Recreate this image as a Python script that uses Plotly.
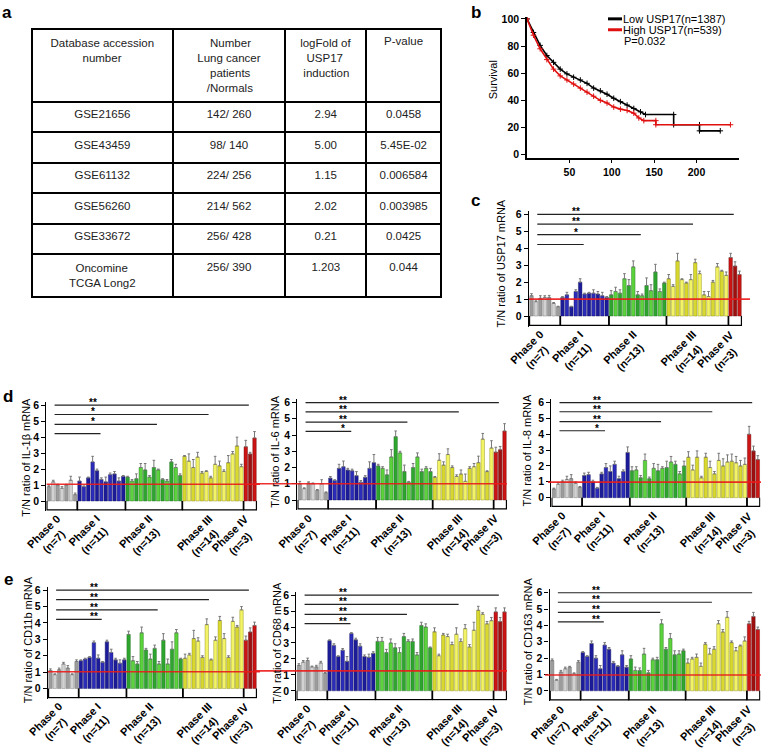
import plotly.graph_objects as go

W, H = 766, 751
FONT = "Liberation Sans, Arial, sans-serif"

# ---------------- data: panel a (table) ----------------
table_header = ["Database accession<br>number", "Number<br>Lung cancer<br>patients<br>/Normals",
                "logFold of<br>USP17<br>induction", "P-value"]
table_ids = ["GSE21656", "GSE43459", "GSE61132", "GSE56260", "GSE33672", "Oncomine<br>TCGA Long2"]
table_n = ["142/ 260", "98/ 140", "224/ 256", "214/ 562", "256/ 428", "256/ 390"]
table_logfold = ["2.94", "5.00", "1.15", "2.02", "0.21", "1.203"]
table_p = ["0.0458", "5.45E-02", "0.006584", "0.003985", "0.0425", "0.044"]

# ---------------- data: panel b (survival) ----------------
km_low_t = [0, 7.6, 15.5, 23.4, 31.3, 39.2, 47.1, 55, 62.9, 70.8, 78.6, 86.5, 94.4, 102.3, 110.2,
            118.1, 126, 133.9, 139.8, 173, 173, 203.5, 203.5, 228]
km_low_s = [100, 90, 80.5, 73, 68, 63, 59.5, 57, 55, 52.5, 49, 47, 44.5, 41.5, 39,
            36.5, 34, 31.5, 29.5, 29.5, 22, 22, 17.5, 17.5]
km_high_t = [0, 7.6, 15.5, 23.4, 31.3, 39.2, 47.1, 55, 62.9, 70.8, 78.6, 86.5, 94.4, 102.3, 110.2,
             118.1, 126, 131.9, 137.8, 152, 152, 240]
km_high_s = [100, 88, 78, 70, 63, 58, 55, 52, 49, 46, 43, 40, 38, 35, 33.5,
             32.5, 30.5, 27, 25, 25, 22, 22]
km_names = ["Low USP17(n=1387)", "High USP17(n=539)"]
km_p_text = "P=0.032"

# ---------------- data: bar panels ----------------
phase_labels = ["Phase 0<br>(n=7)", "Phase I<br>(n=11)", "Phase II<br>(n=13)",
                "Phase III<br>(n=14)", "Phase IV<br>(n=3)"]
phase_sizes = [7, 11, 13, 14, 3]
y_ticks = [0, 1, 2, 3, 4, 5, 6]

usp17_vals = [1.2, 0.85, 1.05, 1.1, 1.1, 0.75, 0.55,
              1.1, 1.25, 0.55, 1.45, 2.0, 1.3, 1.35, 1.35, 1.3, 1.2, 1.1,
              1.25, 1.45, 1.35, 2.2, 1.8, 2.9, 1.25, 1.2, 1.8, 1.5, 2.6, 1.45, 1.95,
              2.2, 1.75, 3.25, 2.15, 1.95, 2.15, 3.15, 2.5, 1.25, 1.15, 2.0, 2.9, 2.65, 2.4,
              3.45, 2.95, 2.45]
usp17_tops = [1.32, 0.9, 1.2, 1.2, 1.22, 0.8, 0.58,
              1.15, 1.4, 0.58, 1.55, 2.2, 1.35, 1.4, 1.55, 1.45, 1.4, 1.15,
              1.5, 1.7, 1.55, 2.5, 2.15, 3.25, 1.45, 1.3, 2.25, 1.85, 3.05, 1.6, 2.0,
              2.45, 1.85, 3.7, 2.2, 2.0, 2.45, 3.35, 2.65, 1.45, 1.45, 2.1, 3.1, 2.7, 2.6,
              3.7, 3.2, 2.65]

il1b_vals = [0.9, 1.2, 1.0, 0.8, 1.0, 1.3, 0.4,
             1.25, 0.9, 1.45, 2.45, 1.9, 1.35, 1.2, 1.65, 1.7, 1.25, 1.55,
             1.5, 1.25, 1.4, 2.1, 1.95, 1.5, 2.1, 1.95, 1.35, 1.25, 2.45, 2.1, 1.6,
             2.8, 2.5, 2.1, 2.75, 1.75, 1.85, 1.45, 2.3, 2.2, 1.85, 2.4, 2.95, 3.45, 2.15,
             3.4, 2.95, 3.95]
il1b_tops = [1.0, 1.3, 1.05, 0.9, 1.05, 1.55, 0.5,
             1.5, 0.95, 1.5, 2.8, 2.0, 1.45, 1.5, 1.75, 1.85, 1.45, 1.6,
             1.55, 1.35, 1.7, 2.35, 2.35, 1.6, 2.55, 2.0, 1.4, 1.35, 2.6, 2.3, 1.7,
             2.85, 2.95, 2.6, 3.05, 1.85, 1.9, 1.55, 2.8, 2.5, 1.95, 2.85, 3.1, 4.0, 2.3,
             3.8, 3.05, 4.35]

il6_vals = [1.0, 0.7, 1.05, 1.0, 0.6, 1.0, 0.45,
            1.35, 1.2, 1.95, 2.05, 1.85, 1.8, 1.5, 1.1, 1.4, 1.95, 2.3,
            2.1, 1.95, 1.55, 2.65, 3.9, 2.9, 1.75, 1.1, 2.0, 2.65, 1.75, 1.95, 1.75,
            1.4, 2.45, 2.15, 2.8, 2.0, 1.45, 1.6, 1.15, 1.95, 2.05, 2.3, 3.75, 1.75, 3.2,
            2.95, 3.1, 4.25]
il6_tops = [1.15, 0.75, 1.12, 1.05, 0.65, 1.25, 0.5,
            1.45, 1.25, 2.2, 2.4, 1.95, 1.9, 1.75, 1.2, 1.5, 2.35, 2.8,
            2.2, 2.05, 1.85, 3.1, 4.25, 3.0, 2.15, 1.15, 2.25, 2.9, 1.9, 2.05, 1.95,
            1.45, 2.85, 2.35, 3.15, 2.1, 1.55, 1.85, 1.6, 2.05, 2.25, 2.7, 4.1, 1.8, 3.65,
            3.25, 3.3, 4.7]

il8_vals = [0.55, 0.85, 1.0, 1.15, 1.2, 0.9, 0.65,
            1.4, 1.45, 1.0, 0.6, 1.5, 1.9, 1.65, 2.1, 1.2, 1.65, 2.85,
            1.7, 1.75, 1.25, 2.35, 1.2, 1.85, 1.7, 1.85, 1.9, 2.25, 2.1, 1.5, 2.0,
            2.55, 1.75, 2.55, 1.25, 2.55, 1.9, 1.5, 2.35, 2.0, 2.25, 2.3, 2.2, 2.0, 2.1,
            4.0, 2.95, 2.4]
il8_tops = [0.6, 0.95, 1.1, 1.35, 1.45, 1.0, 0.7,
            1.55, 1.6, 1.1, 0.65, 1.6, 2.15, 2.0, 2.3, 1.35, 1.75, 3.2,
            1.95, 1.95, 1.4, 2.75, 1.3, 2.15, 2.1, 1.95, 2.3, 2.6, 2.3, 1.65, 2.3,
            2.9, 2.05, 2.95, 1.35, 2.8, 2.3, 1.65, 2.8, 2.45, 2.7, 2.75, 2.6, 2.35, 2.5,
            4.5, 3.25, 2.65]

cd11b_vals = [1.1, 0.85, 1.15, 1.5, 1.25, 0.85, 1.65,
              1.7, 1.8, 1.9, 2.8, 1.85, 1.6, 2.85, 2.2, 1.75, 1.55, 1.75,
              3.3, 1.7, 1.5, 3.4, 2.35, 1.8, 2.45, 1.5, 2.95, 1.5, 2.4, 3.4, 1.8,
              1.85, 2.05, 3.05, 2.9, 1.9, 3.9, 1.75, 2.95, 4.15, 3.05, 1.9, 4.1, 3.75, 4.8,
              2.95, 3.45, 3.85]
cd11b_tops = [1.2, 0.9, 1.25, 1.6, 1.4, 0.9, 1.75,
              1.75, 1.85, 1.95, 2.9, 2.05, 1.65, 2.95, 2.4, 1.85, 1.75, 1.85,
              3.5, 1.95, 1.65, 3.75, 2.45, 2.1, 2.65, 1.65, 3.35, 1.8, 2.85, 3.6, 1.85,
              2.1, 2.15, 3.55, 3.1, 2.0, 4.25, 1.8, 3.15, 4.4, 3.35, 2.0, 4.35, 3.85, 5.0,
              3.2, 3.7, 4.05]

cd68_vals = [1.6, 1.8, 1.9, 1.5, 1.5, 1.75, 1.1,
             3.15, 2.85, 2.15, 2.55, 1.85, 3.6, 3.2, 2.8, 2.15, 2.1, 2.35,
             3.1, 3.1, 2.4, 3.0, 2.7, 2.4, 3.4, 3.1, 3.1, 2.25, 4.1, 4.0, 2.7,
             3.7, 2.2, 3.5, 3.4, 2.9, 3.55, 3.1, 3.9, 2.75, 3.8, 5.05, 4.8, 4.2, 4.4,
             4.95, 4.35, 4.95]
cd68_tops = [1.7, 1.9, 2.05, 1.55, 1.6, 1.85, 1.15,
             3.2, 2.95, 2.2, 2.65, 2.15, 3.65, 3.3, 2.95, 2.25, 2.3, 2.45,
             3.35, 3.35, 2.6, 3.25, 2.95, 2.7, 3.6, 3.2, 3.25, 2.4, 4.3, 4.2, 2.75,
             3.95, 2.3, 3.6, 3.55, 3.05, 3.95, 3.25, 4.15, 2.9, 4.3, 5.3, 4.9, 4.35, 4.6,
             5.2, 4.6, 5.2]

cd163_vals = [1.85, 0.65, 1.15, 1.35, 1.45, 1.05, 1.75,
              2.35, 2.1, 2.9, 2.0, 1.35, 2.8, 2.55, 1.7, 1.5, 2.2, 1.45,
              1.95, 1.25, 1.25, 2.25, 1.1, 1.9, 1.9, 4.1, 2.55, 3.2, 2.2, 2.25, 2.45,
              1.7, 1.95, 2.05, 1.5, 2.85, 2.25, 2.55, 4.1, 3.6, 4.5, 2.95, 2.45, 2.75, 3.05,
              4.1, 4.55, 3.75]
cd163_tops = [1.95, 0.7, 1.25, 1.45, 1.5, 1.1, 1.85,
              2.4, 2.15, 3.05, 2.15, 1.55, 2.95, 2.65, 1.8, 1.55, 2.45, 1.55,
              2.15, 1.45, 1.4, 2.6, 1.25, 2.0, 2.05, 4.35, 2.65, 3.5, 2.45, 2.45, 2.55,
              1.95, 2.05, 2.25, 1.7, 2.95, 2.6, 2.7, 4.3, 3.75, 4.85, 3.05, 2.65, 2.8, 3.3,
              4.25, 4.8, 3.9]

panel_titles = ["T/N ratio of USP17 mRNA", "T/N ratio of IL-1β mRNA", "T/N ratio of IL-6 mRNA",
                "T/N ratio of IL-8 mRNA", "T/N ratio of CD11b mRNA", "T/N ratio of CD68 mRNA",
                "T/N ratio of CD163 mRNA"]
panel_vals = [usp17_vals, il1b_vals, il6_vals, il8_vals, cd11b_vals, cd68_vals, cd163_vals]
panel_tops = [usp17_tops, il1b_tops, il6_tops, il8_tops, cd11b_tops, cd68_tops, cd163_tops]
panel_stars = [["**", "**", "*", ""], ["**", "*", "*", ""], ["**", "**", "**", "*"],
               ["**", "**", "**", "*"], ["**", "**", "**", "**"], ["**", "**", "**", "**"],
               ["**", "**", "**", "**"]]
ref_levels = [1.0, 1.05, 1.0, 0.98, 1.03, 1.25, 0.97]
sig_levels = [6.0, 5.42, 4.8, 4.22]
sig_start = 1.3
sig_ends = [45.7, 36.5, 24.7, 11.8]
star_x = 10

# ---------------- layout geometry (pixels) ----------------
# bar_left, bar_right, y(0), y(6)
geo = [(529.3, 741.7, 315.0, 212.3),
       (46.7, 256.7, 501.7, 405.0),
       (297.7, 506.7, 500.7, 402.3),
       (551.7, 760.0, 498.3, 402.3),
       (48.3, 256.7, 691.0, 591.7),
       (296.7, 506.7, 693.3, 596.7),
       (550.0, 760.0, 693.3, 594.3)]
title_pos = [(501, 262), (26, 458), (275, 452), (526.7, 450), (28.3, 642), (276.7, 645), (528.3, 643)]
red_span = [(529, 750), (46.7, 260), (255, 507), (548, 761), (48, 260), (255, 507), (545, 761)]

phase_fill = [["#9c9c9c", "#d2d2d2"], ["#1c1c9a", "#2c2cba"], ["#2ea52e", "#5cd23c"],
              ["#d8d82e", "#f3f366"], ["#cc1414", "#9e1010"]]
phase_edge = ["#6a6a6a", "#10105a", "#1d6b1d", "#80800e", "#600808"]

# approximate Arial advance widths (per 1000 em) for centring multi-line table text
_CW = dict(zip("abcdefghijklmnopqrstuvwxyz",
               [556, 556, 500, 556, 556, 278, 556, 556, 222, 222, 500, 222, 833, 556, 556, 556, 556,
                333, 500, 278, 556, 500, 722, 500, 500, 500]))
_CW.update(dict(zip("ABCDEFGHIJKLMNOPQRSTUVWXYZ",
                    [667, 667, 722, 722, 667, 611, 778, 722, 278, 500, 667, 556, 833, 722, 778, 667,
                     778, 722, 667, 611, 722, 667, 944, 667, 667, 611])))
_CW.update({" ": 278, "/": 278, "-": 333, ".": 278})


def center_lines(text):
    lines = text.split("<br>")
    widths = [sum(_CW.get(ch, 556) for ch in ln) for ln in lines]
    mx = max(widths)
    out = []
    for ln, w in zip(lines, widths):
        out.append("\u00a0" * int(round((mx - w) / 2 / 278)) + ln)
    return "<br>".join(out)


def px(x):
    return x / W


def py(y):
    return 1 - y / H


fig = go.Figure()
annotations = []
shapes = []
layout = {}

# ---------------- panel a: table ----------------
fig.add_trace(go.Table(
    domain=dict(x=[px(32), px(441)], y=[py(301), py(25)]),
    columnwidth=[141, 113, 81, 75],
    header=dict(values=[center_lines(h) for h in table_header], align="center", height=70,
                fill_color="white", line=dict(color="black", width=2),
                font=dict(family=FONT, size=11.5, color="#222")),
    cells=dict(values=[[center_lines(v) for v in table_ids], table_n, table_logfold, table_p],
               align="center", height=30.5,
               fill_color="white", line=dict(color="black", width=2),
               font=dict(family=FONT, size=11.5, color="#222")),
))

# ---------------- panel b: survival ----------------
for t, s, c in [(km_low_t, km_low_s, "black"), (km_high_t, km_high_s, "#e01010")]:
    fig.add_trace(go.Scatter(x=t, y=s, mode="lines+markers", xaxis="x", yaxis="y",
                             line=dict(color=c, width=1.6),
                             marker=dict(symbol="cross-thin-open", size=4, color=c, line=dict(width=1, color=c)),
                             showlegend=False))
layout["xaxis"] = dict(domain=[px(527), px(738.5)], range=[0, 249.5], anchor="y",
                       tickvals=[50, 100, 150, 200], showline=True, linecolor="black", linewidth=1.5,
                       ticks="outside", ticklen=4, tickwidth=1.2, tickcolor="black",
                       tickfont=dict(family=FONT, size=10.5, color="black", weight="bold"),
                       showgrid=False, zeroline=False)
layout["yaxis"] = dict(domain=[py(155), py(13)], range=[-2.2, 101.5], anchor="x",
                       tickvals=[0, 20, 40, 60, 80, 100], showline=True, linecolor="black", linewidth=1.5,
                       ticks="outside", ticklen=4, tickwidth=1.2, tickcolor="black",
                       tickfont=dict(family=FONT, size=10.5, color="black", weight="bold"),
                       showgrid=False, zeroline=False)
annotations.append(dict(text="Survival", x=px(493), y=py(77), xref="paper", yref="paper",
                        xanchor="center", yanchor="middle",
                        textangle=-90, showarrow=False, font=dict(family=FONT, size=11, color="black")))
for i, (name, c) in enumerate(zip(km_names, ["black", "#e01010"])):
    yy = 15 + 11 * i
    shapes.append(dict(type="line", xref="paper", yref="paper", x0=px(608), x1=px(622),
                       y0=py(yy), y1=py(yy), line=dict(color=c, width=3)))
    annotations.append(dict(text=name, x=px(621), y=py(yy), xref="paper", yref="paper",
                            xanchor="left", yanchor="middle", showarrow=False,
                            font=dict(family=FONT, size=11, color="black")))
annotations.append(dict(text=km_p_text, x=px(622), y=py(37.5), xref="paper", yref="paper",
                        xanchor="left", yanchor="middle", showarrow=False,
                        font=dict(family=FONT, size=11, color="black")))

# ---------------- bar panels c, d, e ----------------
bar_colors, edge_colors = [], []
for p, n in enumerate(phase_sizes):
    for k in range(n):
        bar_colors.append(phase_fill[p][k % 2])
        edge_colors.append(phase_edge[p])
xs = list(range(sum(phase_sizes)))
starts = [sum(phase_sizes[:p]) for p in range(len(phase_sizes))]

for i in range(len(panel_vals)):
    k = i + 2
    xa, ya = "x%d" % k, "y%d" % k
    bl, br, y0p, y6p = geo[i]
    unit = (y0p - y6p) / 6
    slot = (br - bl) / 48
    layout["xaxis%d" % k] = dict(domain=[px(bl - 0.1 * slot), px(br + 0.1 * slot)], range=[-0.6, 47.6],
                                 anchor=ya, visible=False)
    layout["yaxis%d" % k] = dict(domain=[py(y0p + 0.62 * unit), py(y6p - 0.2 * unit)], range=[-0.62, 6.2],
                                 anchor=xa, tickvals=y_ticks, showline=True, linecolor="black", linewidth=1.3,
                                 ticks="outside", ticklen=4, tickwidth=1.2, tickcolor="black",
                                 tickfont=dict(family=FONT, size=10.5, color="black", weight="bold"),
                                 showgrid=False, zeroline=False)
    vals, tops = panel_vals[i], panel_tops[i]
    fig.add_trace(go.Bar(x=xs, y=vals, xaxis=xa, yaxis=ya, showlegend=False,
                         marker=dict(color=bar_colors, line=dict(color=edge_colors, width=0.4)),
                         error_y=dict(type="data", symmetric=False,
                                      array=[t - v for t, v in zip(tops, vals)],
                                      arrayminus=[0] * len(vals), color="#777", thickness=1, width=1.3)))
    # phase brackets
    bx, by = [], []
    for p, n in enumerate(phase_sizes):
        s0, e0 = starts[p] - 0.45, starts[p] + n - 1 + 0.45
        bx += [s0, s0, e0, e0, None]
        by += [0, -0.55, -0.55, 0, None]
        annotations.append(dict(text=phase_labels[p], x=starts[p] + (n - 1) / 2, y=-0.6,
                                xref=xa, yref=ya, xanchor="right", yanchor="top", xshift=14, yshift=1,
                                textangle=-45, showarrow=False, align="center",
                                font=dict(family=FONT, size=11, color="black", weight="bold")))
    fig.add_trace(go.Scatter(x=bx, y=by, mode="lines", xaxis=xa, yaxis=ya, showlegend=False,
                             line=dict(color="black", width=1.3)))
    # significance lines
    sx, sy = [], []
    for lev, end, st in zip(sig_levels, sig_ends, panel_stars[i]):
        sx += [sig_start, end, None]
        sy += [lev, lev, None]
        if st:
            annotations.append(dict(text=st, x=star_x, y=lev, xref=xa, yref=ya, xanchor="center",
                                    yanchor="bottom", yshift=-5, showarrow=False,
                                    font=dict(family=FONT, size=10, color="black", weight="bold")))
    fig.add_trace(go.Scatter(x=sx, y=sy, mode="lines", xaxis=xa, yaxis=ya, showlegend=False,
                             line=dict(color="#222", width=1.2)))
    # reference line at ratio 1
    shapes.append(dict(type="line", xref="paper", yref=ya, x0=px(red_span[i][0]), x1=px(red_span[i][1]),
                       y0=ref_levels[i], y1=ref_levels[i], line=dict(color="rgba(235,25,25,0.9)", width=1.6)))
    # y title
    annotations.append(dict(text=panel_titles[i], x=px(title_pos[i][0]), y=py(title_pos[i][1]),
                            xref="paper", yref="paper", xanchor="center", yanchor="middle",
                            textangle=-90, showarrow=False,
                            font=dict(family=FONT, size=11, color="black")))

# panel letters
for lab, (lx, ly) in zip(["a", "b", "c", "d", "e"], [(7, 9), (476, 9), (475, 198), (8, 396), (8, 581)]):
    annotations.append(dict(text="<b>%s</b>" % lab, x=px(lx), y=py(ly), xref="paper", yref="paper",
                            xanchor="center", yanchor="middle", showarrow=False,
                            font=dict(family=FONT, size=17, color="black")))

fig.update_layout(width=W, height=H, margin=dict(l=0, r=0, t=0, b=0),
                  paper_bgcolor="white", plot_bgcolor="white", bargap=0.2,
                  annotations=annotations, shapes=shapes, showlegend=False, **layout)
fig.write_html("out.html", config={"displayModeBar": False},
               post_script="document.body.style.margin='0px';")
